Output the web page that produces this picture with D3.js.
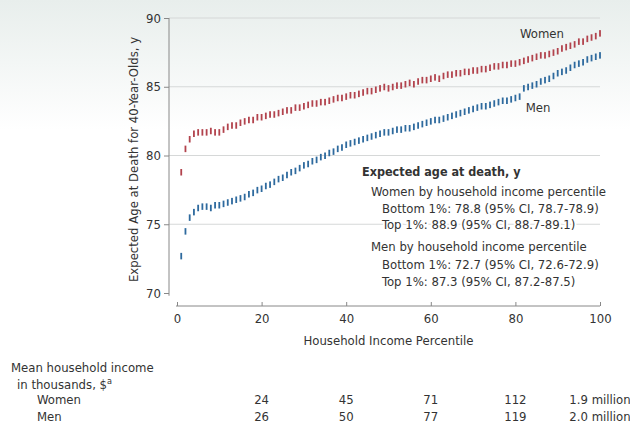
<!DOCTYPE html>
<html lang="en">
<head>
<meta charset="UTF-8">
<title>Expected age at death by income percentile</title>
<script src="https://d3js.org/d3.v7.min.js"></script>
<style>
    body { margin: 0; background: #fff; }
    text { font-family: "Liberation Sans Narrow", "DejaVu Sans Condensed", sans-serif; fill: #333; }
</style>
</head>
<body>
<svg id="chart" width="630" height="426"></svg>
<script>
// expected age at death, by household income percentile 1..100
const women = [
    78.8, 80.5, 81.2, 81.6, 81.7, 81.7, 81.7, 81.8, 81.7, 81.7,
    81.9, 82.1, 82.2, 82.2, 82.4, 82.5, 82.6, 82.6, 82.8, 82.8,
    82.9, 83.0, 83.0, 83.1, 83.2, 83.3, 83.3, 83.5, 83.5, 83.6,
    83.7, 83.8, 83.8, 83.9, 83.9, 84.0, 84.1, 84.2, 84.2, 84.3,
    84.4, 84.4, 84.5, 84.6, 84.7, 84.7, 84.8, 84.9, 85.0, 84.9,
    85.0, 85.1, 85.1, 85.2, 85.3, 85.2, 85.4, 85.5, 85.5, 85.6,
    85.7, 85.6, 85.8, 85.9, 85.9, 86.0, 86.0, 86.1, 86.1, 86.2,
    86.2, 86.3, 86.3, 86.4, 86.5, 86.5, 86.6, 86.6, 86.7, 86.7,
    86.8, 86.9, 87.0, 87.1, 87.2, 87.3, 87.3, 87.4, 87.5, 87.6,
    87.8, 87.9, 88.0, 88.1, 88.3, 88.3, 88.5, 88.6, 88.7, 88.9
];
const men = [
    72.7, 74.5, 75.5, 75.9, 76.2, 76.3, 76.3, 76.2, 76.4, 76.4,
    76.5, 76.6, 76.7, 76.8, 76.9, 77.0, 77.2, 77.3, 77.5, 77.6,
    77.8, 77.9, 78.1, 78.3, 78.4, 78.6, 78.8, 78.9, 79.1, 79.3,
    79.4, 79.6, 79.7, 79.9, 80.0, 80.2, 80.3, 80.5, 80.6, 80.8,
    80.9, 81.0, 81.1, 81.2, 81.3, 81.4, 81.5, 81.6, 81.7, 81.7,
    81.8, 81.9, 81.9, 82.0, 82.0, 82.1, 82.2, 82.3, 82.4, 82.5,
    82.6, 82.6, 82.7, 82.8, 82.9, 83.0, 83.1, 83.2, 83.3, 83.4,
    83.5, 83.6, 83.6, 83.7, 83.8, 83.9, 84.0, 84.0, 84.1, 84.2,
    84.3, 84.9, 85.0, 85.1, 85.2, 85.4, 85.5, 85.6, 85.8, 86.0,
    86.1, 86.2, 86.4, 86.6, 86.7, 86.8, 87.0, 87.1, 87.2, 87.3
];
const xTicks = [0, 20, 40, 60, 80, 100];
const yTicks = [70, 75, 80, 85, 90];
const incomeWomen = ["24", "45", "71", "112", "1.9 million"];
const incomeMen = ["26", "50", "77", "119", "2.0 million"];
const incomeAt = [20, 40, 60, 80, 100];
const noteLines = [
    "Expected age at death, y",
    "Women by household income percentile",
    "Bottom 1%: 78.8 (95% CI, 78.7-78.9)",
    "Top 1%: 88.9 (95% CI, 88.7-89.1)",
    "Men by household income percentile",
    "Bottom 1%: 72.7 (95% CI, 72.6-72.9)",
    "Top 1%: 87.3 (95% CI, 87.2-87.5)"
];

const svg = d3.select("#chart");

// faint tinted band at the top, like the scan
const defs = svg.append("defs");
const grad = defs.append("linearGradient").attr("id", "bg").attr("x1", 0).attr("y1", 0).attr("x2", 0).attr("y2", 1);
grad.append("stop").attr("offset", "0%").attr("stop-color", "#e8eeec");
grad.append("stop").attr("offset", "100%").attr("stop-color", "#ffffff");
svg.append("rect").attr("width", 630).attr("height", 130).attr("fill", "url(#bg)");

const x = d3.scaleLinear().domain([0, 100]).range([177, 600]);
const y = d3.scaleLinear().domain([70, 90]).range([293, 18]);

// gridlines
svg.append("g").selectAll("line")
    .data(yTicks.filter(d => d > 70)).join("line")
    .attr("x1", 169).attr("x2", x(100))
    .attr("y1", d => y(d)).attr("y2", d => y(d))
    .attr("stroke", "#d6d8d8").attr("stroke-width", 1.2);

// y axis
const yAxis = svg.append("g").attr("transform", "translate(169,0)")
    .call(d3.axisLeft(y).tickValues(yTicks).tickSize(5).tickPadding(3));
yAxis.select(".domain").attr("d", `M0,${y(90)}V${y(69.8)}`);
yAxis.selectAll("path, line").attr("stroke", "#888");
yAxis.selectAll("text").attr("font-size", 13).attr("fill", "#444")
    .attr("font-family", "Liberation Sans Narrow, DejaVu Sans Condensed, sans-serif");

// x axis, ticks pointing up
const xAxis = svg.append("g").attr("transform", "translate(0,306)")
    .call(d3.axisBottom(x).tickValues(xTicks).tickSize(-4).tickPadding(8));
xAxis.select(".domain").attr("d", `M${x(0) - 1},0H${x(100)}`);
xAxis.selectAll("path, line").attr("stroke", "#888");
xAxis.selectAll("text").attr("font-size", 13).attr("fill", "#444")
    .attr("font-family", "Liberation Sans Narrow, DejaVu Sans Condensed, sans-serif");

svg.append("text")
    .attr("transform", `translate(138,${(y(90) + y(70)) / 2 + 4}) rotate(-90)`)
    .attr("text-anchor", "middle").attr("font-size", 13)
    .text("Expected Age at Death for 40-Year-Olds, y");

svg.append("text")
    .attr("x", x(50)).attr("y", 345)
    .attr("text-anchor", "middle").attr("font-size", 13)
    .text("Household Income Percentile");

// CI marks
function drawSeries(vals, color) {
    svg.append("g").selectAll("rect")
        .data(vals).join("rect")
        .attr("x", (d, i) => x(i + 1) - 0.9)
        .attr("y", d => y(d) - 3)
        .attr("width", 1.8).attr("height", 6.5)
        .attr("fill", color);
}
drawSeries(women, "#b2434d");
drawSeries(men, "#2e6a9e");

svg.append("text").attr("x", 542).attr("y", 38).attr("text-anchor", "middle")
    .attr("font-size", 13).text("Women");
svg.append("text").attr("x", 538).attr("y", 112).attr("text-anchor", "middle")
    .attr("font-size", 13).text("Men");

// note block
const noteX = [362, 371, 382, 382, 371, 382, 382];
const noteY = [176, 196, 213, 229, 251, 269, 286];
svg.append("g").selectAll("text")
    .data(noteLines).join("text")
    .attr("x", (d, i) => noteX[i]).attr("y", (d, i) => noteY[i])
    .attr("font-size", (d, i) => i === 0 ? 12.5 : 13)
    .attr("font-weight", (d, i) => i === 0 ? "bold" : "normal")
    .attr("stroke", "#fff").attr("stroke-width", 4).attr("paint-order", "stroke")
    .text(d => d);

// income table
svg.append("text").attr("x", 11).attr("y", 372).attr("font-size", 13).text("Mean household income");
const sub = svg.append("text").attr("x", 17).attr("y", 389).attr("font-size", 13);
sub.append("tspan").text("in thousands, $");
sub.append("tspan").attr("font-size", 9).attr("dy", -5).text("a");
svg.append("text").attr("x", 37).attr("y", 404).attr("font-size", 13).text("Women");
svg.append("text").attr("x", 37).attr("y", 421).attr("font-size", 13).text("Men");

svg.append("g").selectAll("text")
    .data(incomeWomen).join("text")
    .attr("x", (d, i) => x(incomeAt[i])).attr("y", 404)
    .attr("text-anchor", "middle").attr("font-size", 13).text(d => d);
svg.append("g").selectAll("text")
    .data(incomeMen).join("text")
    .attr("x", (d, i) => x(incomeAt[i])).attr("y", 421)
    .attr("text-anchor", "middle").attr("font-size", 13).text(d => d);
</script>
</body>
</html>
